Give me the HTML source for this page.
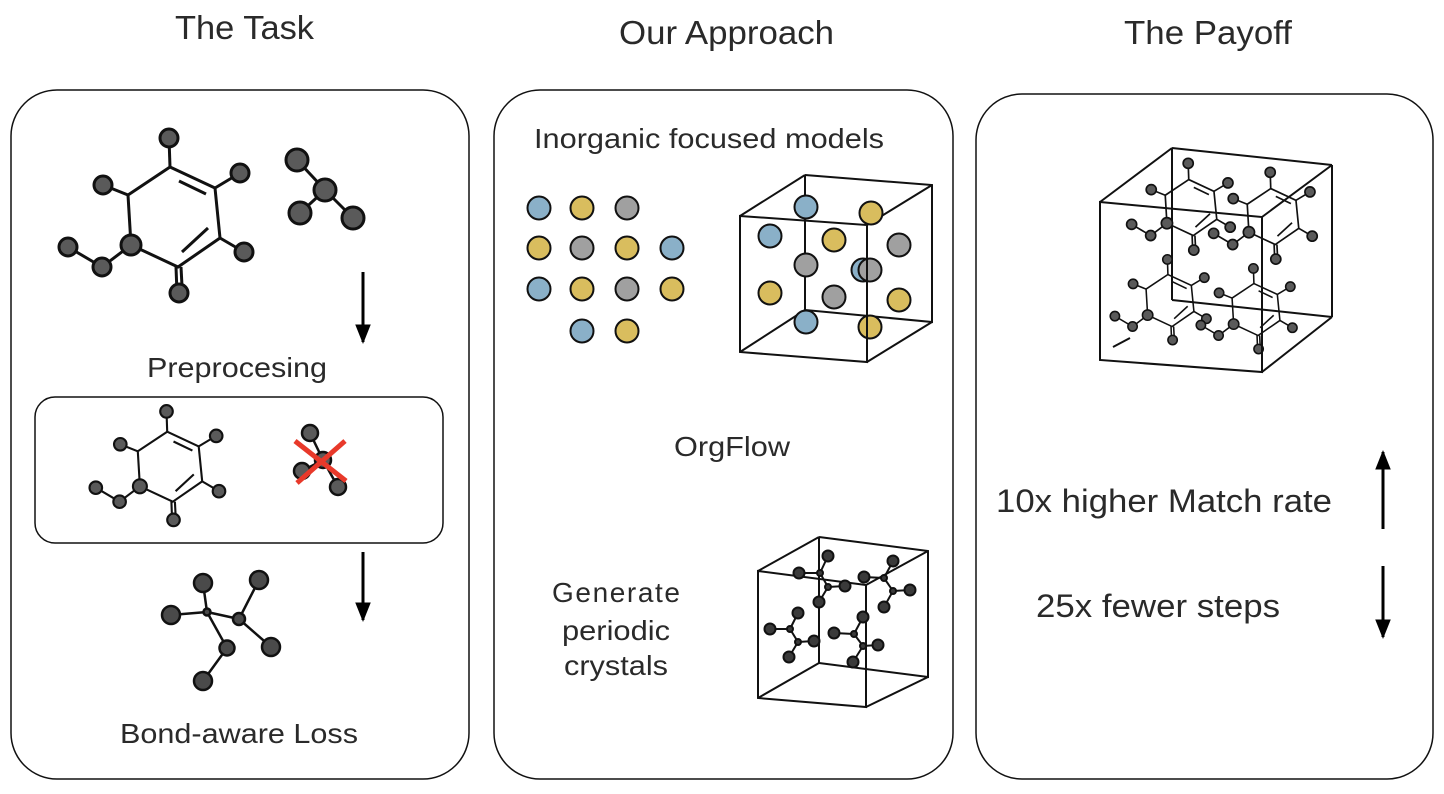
<!DOCTYPE html>
<html><head><meta charset="utf-8"><style>
html,body{margin:0;padding:0;background:#fff;}
svg{display:block;}
text{font-family:"Liberation Sans",Arial,sans-serif;fill:#2a2a2a;}
</style></head><body>
<svg width="1444" height="794" viewBox="0 0 1444 794" xmlns="http://www.w3.org/2000/svg">
<defs>
<g id="mol" stroke="#111" stroke-width="3" fill="#5a5a5a">
  <polyline fill="none" points="-4,-49 41,-28 46,22 4,51 -43,29 -46,-21 -4,-49"/>
  <line x1="-4" y1="-49" x2="-5" y2="-78"/>
  <line x1="41" y1="-28" x2="66" y2="-43"/>
  <line x1="-46" y1="-21" x2="-71" y2="-31"/>
  <line x1="46" y1="22" x2="70" y2="36"/>
  <line x1="2" y1="51" x2="3" y2="77"/>
  <line x1="7" y1="51" x2="8" y2="70"/>
  <polyline fill="none" points="-43,29 -72,51 -106,31"/>
  <line x1="5" y1="-35" x2="32" y2="-22"/>
  <line x1="34" y1="12" x2="8" y2="36"/>
  <circle cx="-5" cy="-78" r="9"/>
  <circle cx="66" cy="-43" r="9"/>
  <circle cx="-71" cy="-31" r="9"/>
  <circle cx="70" cy="36" r="9"/>
  <circle cx="5" cy="77" r="9"/>
  <circle cx="-43" cy="29" r="10"/>
  <circle cx="-72" cy="51" r="9"/>
  <circle cx="-106" cy="31" r="9"/>
</g>
<marker id="ah" viewBox="0 0 10 10" refX="9" refY="5" markerWidth="6.5" markerHeight="6.5" orient="auto">
  <path d="M0,1 L10,5 L0,9 z" fill="#000"/>
</marker>
</defs>

<!-- titles -->
<text x="175" y="39" font-size="33" textLength="139" lengthAdjust="spacingAndGlyphs">The Task</text>
<text x="619" y="44" font-size="33" textLength="215" lengthAdjust="spacingAndGlyphs">Our Approach</text>
<text x="1124" y="44" font-size="33" textLength="168" lengthAdjust="spacingAndGlyphs">The Payoff</text>

<!-- panels -->
<rect x="11" y="90" width="458" height="689" rx="46" fill="none" stroke="#111" stroke-width="1.5"/>
<rect x="494" y="90" width="459" height="689" rx="46" fill="none" stroke="#111" stroke-width="1.5"/>
<rect x="976" y="94" width="457" height="685" rx="46" fill="none" stroke="#111" stroke-width="1.5"/>
<rect x="35" y="397" width="408" height="146" rx="20" fill="none" stroke="#111" stroke-width="1.5"/>

<!-- left panel -->
<use href="#mol" transform="translate(174,216)"/>
<g stroke="#111" stroke-width="3" fill="#5a5a5a">
  <line x1="297" y1="160" x2="325" y2="190"/><line x1="325" y1="190" x2="300" y2="213"/><line x1="325" y1="190" x2="353" y2="218"/>
  <circle cx="297" cy="160" r="11"/><circle cx="325" cy="190" r="11"/><circle cx="300" cy="213" r="11"/><circle cx="353" cy="218" r="11"/>
</g>
<line x1="363" y1="272" x2="363" y2="342" stroke="#000" stroke-width="3" marker-end="url(#ah)"/>
<text x="147" y="377" font-size="28" textLength="180" lengthAdjust="spacingAndGlyphs">Preprocesing</text>
<use href="#mol" transform="translate(170,466) scale(0.7)"/>
<g stroke="#111" stroke-width="2.5" fill="#5a5a5a">
  <line x1="310" y1="433" x2="323" y2="460"/><line x1="323" y1="460" x2="302" y2="471"/><line x1="323" y1="460" x2="338" y2="487"/>
  <circle cx="310" cy="433" r="8"/><circle cx="323" cy="460" r="8"/><circle cx="302" cy="471" r="8"/><circle cx="338" cy="487" r="8"/>
</g>
<g stroke="#E8392A" stroke-width="5">
  <line x1="295" y1="441" x2="346" y2="481"/><line x1="345" y1="441" x2="297" y2="483"/>
</g>
<line x1="363" y1="552" x2="363" y2="620" stroke="#000" stroke-width="3" marker-end="url(#ah)"/>
<g stroke="#111" stroke-width="2.5" fill="#4a4a4a">
  <line x1="207" y1="612" x2="203" y2="583"/><line x1="207" y1="612" x2="171" y2="615"/><line x1="207" y1="612" x2="239" y2="619"/>
  <line x1="239" y1="619" x2="259" y2="580"/><line x1="239" y1="619" x2="271" y2="647"/><line x1="207" y1="612" x2="227" y2="648"/><line x1="227" y1="648" x2="203" y2="681"/>
  <circle cx="203" cy="583" r="9"/><circle cx="171" cy="615" r="9"/><circle cx="259" cy="580" r="9"/><circle cx="227" cy="648" r="7.5"/>
  <circle cx="203" cy="681" r="9"/><circle cx="271" cy="647" r="9"/><circle cx="207" cy="612" r="3.5"/><circle cx="239" cy="619" r="6"/>
</g>
<text x="120" y="743" font-size="28" textLength="238" lengthAdjust="spacingAndGlyphs">Bond-aware Loss</text>

<!-- middle panel -->
<text x="534" y="148" font-size="28" textLength="350" lengthAdjust="spacingAndGlyphs">Inorganic focused models</text>
<g stroke="#111" stroke-width="2">
  <circle cx="539" cy="208" r="11.5" fill="#8AB0C8"/><circle cx="582" cy="208" r="11.5" fill="#D9BD5E"/><circle cx="627" cy="208" r="11.5" fill="#A0A0A0"/>
  <circle cx="539" cy="248" r="11.5" fill="#D9BD5E"/><circle cx="582" cy="248" r="11.5" fill="#A0A0A0"/><circle cx="627" cy="248" r="11.5" fill="#D9BD5E"/><circle cx="672" cy="248" r="11.5" fill="#8AB0C8"/>
  <circle cx="539" cy="289" r="11.5" fill="#8AB0C8"/><circle cx="582" cy="289" r="11.5" fill="#D9BD5E"/><circle cx="627" cy="289" r="11.5" fill="#A0A0A0"/><circle cx="672" cy="289" r="11.5" fill="#D9BD5E"/>
  <circle cx="582" cy="331" r="11.5" fill="#8AB0C8"/><circle cx="627" cy="331" r="11.5" fill="#D9BD5E"/>
</g>
<g fill="none" stroke="#111" stroke-width="2">
  <polyline points="805,175 932,185 932,322 805,310 805,175"/>
  <line x1="740" y1="216" x2="805" y2="175"/><line x1="867" y1="225" x2="932" y2="185"/>
  <line x1="867" y1="362" x2="932" y2="322"/><line x1="740" y1="352" x2="805" y2="310"/>
</g>
<g stroke="#111" stroke-width="2">
  <circle cx="806" cy="207" r="11.5" fill="#8AB0C8"/><circle cx="871" cy="213" r="11.5" fill="#D9BD5E"/>
  <circle cx="770" cy="236" r="11.5" fill="#8AB0C8"/><circle cx="834" cy="240" r="11.5" fill="#D9BD5E"/><circle cx="899" cy="245" r="11.5" fill="#A0A0A0"/>
  <circle cx="806" cy="265" r="11.5" fill="#A0A0A0"/><circle cx="863" cy="270" r="11.5" fill="#8AB0C8"/><circle cx="870" cy="270" r="11.5" fill="#A0A0A0"/>
  <circle cx="770" cy="293" r="11.5" fill="#D9BD5E"/><circle cx="834" cy="297" r="11.5" fill="#A0A0A0"/><circle cx="899" cy="300" r="11.5" fill="#D9BD5E"/>
  <circle cx="806" cy="322" r="11.5" fill="#8AB0C8"/><circle cx="870" cy="327" r="11.5" fill="#D9BD5E"/>
</g>
<polygon points="740,216 867,225 867,362 740,352" fill="none" stroke="#111" stroke-width="2"/>
<text x="674" y="456" font-size="28" textLength="116" lengthAdjust="spacingAndGlyphs">OrgFlow</text>
<text font-size="28" lengthAdjust="spacingAndGlyphs"><tspan x="552" y="602" textLength="128">Generate</tspan></text>
<text font-size="28" lengthAdjust="spacingAndGlyphs" x="562" y="640" textLength="108">periodic</text>
<text font-size="28" lengthAdjust="spacingAndGlyphs" x="564" y="675" textLength="104">crystals</text>

<g fill="none" stroke="#111" stroke-width="2">
  <polyline points="819,537 928,551 928,677 819,663 819,537"/>
  <line x1="758" y1="571" x2="819" y2="537"/><line x1="866" y1="585" x2="928" y2="551"/>
  <line x1="866" y1="707" x2="928" y2="677"/><line x1="758" y1="698" x2="819" y2="663"/>
  <polygon points="758,571 866,585 866,707 758,698"/>
</g>
<g stroke="#111" stroke-width="2" fill="#3a3a3a">
  <g><line x1="820" y1="573" x2="828" y2="556"/><line x1="820" y1="573" x2="799" y2="573"/><line x1="820" y1="573" x2="828" y2="587"/><line x1="828" y1="587" x2="819" y2="602"/><line x1="828" y1="587" x2="845" y2="586"/>
  <circle cx="828" cy="556" r="5.5"/><circle cx="799" cy="573" r="5.5"/><circle cx="819" cy="602" r="5.5"/><circle cx="845" cy="586" r="5.5"/><circle cx="820" cy="573" r="3"/><circle cx="828" cy="587" r="3"/></g>
  <g><line x1="884" y1="578" x2="893" y2="561"/><line x1="884" y1="578" x2="864" y2="577"/><line x1="884" y1="578" x2="893" y2="591"/><line x1="893" y1="591" x2="884" y2="607"/><line x1="893" y1="591" x2="910" y2="590"/>
  <circle cx="893" cy="561" r="5.5"/><circle cx="864" cy="577" r="5.5"/><circle cx="884" cy="607" r="5.5"/><circle cx="910" cy="590" r="5.5"/><circle cx="884" cy="578" r="3"/><circle cx="893" cy="591" r="3"/></g>
  <g><line x1="790" y1="629" x2="798" y2="613"/><line x1="790" y1="629" x2="770" y2="629"/><line x1="790" y1="629" x2="798" y2="642"/><line x1="798" y1="642" x2="789" y2="657"/><line x1="798" y1="642" x2="814" y2="641"/>
  <circle cx="798" cy="613" r="5.5"/><circle cx="770" cy="629" r="5.5"/><circle cx="789" cy="657" r="5.5"/><circle cx="814" cy="641" r="5.5"/><circle cx="790" cy="629" r="3"/><circle cx="798" cy="642" r="3"/></g>
  <g><line x1="854" y1="634" x2="863" y2="617"/><line x1="854" y1="634" x2="834" y2="633"/><line x1="854" y1="634" x2="863" y2="646"/><line x1="863" y1="646" x2="853" y2="662"/><line x1="863" y1="646" x2="878" y2="645"/>
  <circle cx="863" cy="617" r="5.5"/><circle cx="834" cy="633" r="5.5"/><circle cx="853" cy="662" r="5.5"/><circle cx="878" cy="645" r="5.5"/><circle cx="854" cy="634" r="3"/><circle cx="863" cy="646" r="3"/></g>
</g>

<!-- right panel -->
<g fill="none" stroke="#111" stroke-width="2">
  <line x1="1172" y1="148" x2="1332" y2="165"/><line x1="1332" y1="165" x2="1332" y2="317"/>
  <line x1="1172" y1="148" x2="1172" y2="300"/><line x1="1172" y1="300" x2="1332" y2="317"/>
  <line x1="1100" y1="202" x2="1172" y2="148"/><line x1="1262" y1="217" x2="1332" y2="165"/>
  <line x1="1262" y1="372" x2="1332" y2="317"/><line x1="1113" y1="347" x2="1130" y2="338"/>
</g>
<use href="#mol" transform="translate(1191,207) scale(0.56)"/>
<use href="#mol" transform="translate(1273,216) scale(0.56)"/>
<use href="#mol" transform="translate(1170,300) scale(0.52)"/>
<use href="#mol" transform="translate(1256,309) scale(0.52)"/>
<polygon points="1100,202 1262,217 1262,372 1100,360" fill="none" stroke="#111" stroke-width="2"/>

<text x="996" y="512" font-size="32" textLength="336" lengthAdjust="spacingAndGlyphs">10x higher Match rate</text>
<text x="1036" y="617" font-size="32" textLength="244" lengthAdjust="spacingAndGlyphs">25x fewer steps</text>
<line x1="1383" y1="529" x2="1383" y2="452" stroke="#000" stroke-width="3" marker-end="url(#ah)"/>
<line x1="1383" y1="566" x2="1383" y2="637" stroke="#000" stroke-width="3" marker-end="url(#ah)"/>
</svg>
</body></html>
